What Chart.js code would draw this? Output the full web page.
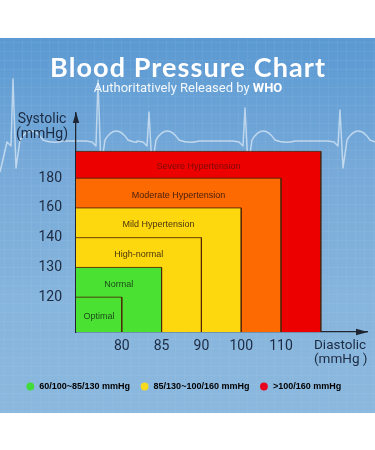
<!DOCTYPE html>
<html><head><meta charset="utf-8">
<script src="https://cdn.jsdelivr.net/npm/chart.js@4.4.1/dist/chart.umd.min.js"></script>
<style>
html,body{margin:0;padding:0;background:#fff;width:375px;height:450px;overflow:hidden}
#wrap{position:absolute;left:0;top:38px;width:375px;height:375px;background:linear-gradient(#5a99d2 0%,#77aad9 35%,#86b5dd 70%,#8bb8de 100%)}
canvas{display:block}
</style></head><body>
<div id="wrap"><canvas id="c" width="375" height="375"></canvas></div>
<script>
// ---- data ----
const zoneNames = ['Optimal','Normal','High-normal','Mild Hypertension','Moderate Hypertension','Severe Hypertension'];
const diastolicTickLabels = ['80','85','90','100','110'];
const systolicTickLabels = ['120','130','140','160','180'];
// zone extents expressed in axis steps (the chart axes are ordinal: step 1 = first tick label)
const zoneDiastolicStep = [1, 2, 3, 4, 5, 6];
const zoneSystolicStep  = [1, 2, 3, 4, 5, 5.9];
const legendLabels = ['60/100~85/130 mmHg','85/130~100/160 mmHg','>100/160 mmHg'];

// ---- styles ----
const zoneColors = ['#4be133','#4be133','#fed80e','#fed80e','#fd6a02','#ec0000'];
const zoneTextColors = ['#1d4a1a','#1d4a1a','#4a3510','#4a3510','#4a2108','#7d0a0a'];
const legendColors = ['#41dc3a','#f8da1e','#e8001c'];
const AX_X_MIN = -0.15, AX_X_MAX = 7.16, AX_Y_MIN = -0.17, AX_Y_MAX = 7.19;
const INK = '#1c2a42';

const datasets = zoneNames.map((name, i) => ({
  label: name,
  data: [
    {x: AX_X_MIN, y: zoneSystolicStep[i]},
    {x: zoneDiastolicStep[i], y: zoneSystolicStep[i]},
    {x: zoneDiastolicStep[i], y: AX_Y_MIN}
  ],
  backgroundColor: zoneColors[i],
  borderColor: 'rgba(80,35,10,0.85)',
  borderWidth: 1,
  fill: 'start',
  pointRadius: 0,
  tension: 0
}));

const decor = {
  id: 'decor',
  beforeDraw(chart) {
    const ctx = chart.ctx, W = chart.width, H = chart.height;
    ctx.save();
    ctx.strokeStyle = 'rgba(255,255,255,0.05)';
    ctx.lineWidth = 1;
    for (let x = 4.5; x < W; x += 9) { ctx.beginPath(); ctx.moveTo(x, 0); ctx.lineTo(x, H); ctx.stroke(); }
    for (let y = 4.5; y < H; y += 9) { ctx.beginPath(); ctx.moveTo(0, y); ctx.lineTo(W, y); ctx.stroke(); }
    // ECG trace (decorative background)
    const yb = 100;
    const spikes = [[13, 41], [98, 42], [149, 74], [245, 70], [340, 72]];
    ctx.strokeStyle = 'rgba(255,255,255,0.55)';
    ctx.lineWidth = 1.5;
    ctx.lineJoin = 'round';
    ctx.beginPath();
    ctx.moveTo(0, yb + 34);
    spikes.forEach(([sx, py], k) => {
      ctx.lineTo(sx - 6, yb + 4);
      ctx.lineTo(sx - 2, yb + 8);
      ctx.lineTo(sx, py);
      ctx.lineTo(sx + 3, yb + 30);
      ctx.lineTo(sx + 7, yb + 2);
      ctx.quadraticCurveTo(sx + 18, yb - 16, sx + 30, yb + 2);
      const nx = k + 1 < spikes.length ? spikes[k + 1][0] : W + 20;
      ctx.quadraticCurveTo(sx + 40, yb + 6, Math.min(sx + 50, nx - 12), yb + 3);
      ctx.lineTo(nx - 12, yb + 3);
    });
    ctx.stroke();
    ctx.restore();
  },
  afterDatasetsDraw(chart) {
    const ctx = chart.ctx, xs = chart.scales.x, ys = chart.scales.y, ca = chart.chartArea;
    ctx.save();
    // zone names
    ctx.textAlign = 'center';
    ctx.textBaseline = 'middle';
    ctx.font = '9px "Liberation Sans", Arial, sans-serif';
    zoneNames.forEach((name, i) => {
      const cx = (xs.getPixelForValue(AX_X_MIN) + xs.getPixelForValue(zoneDiastolicStep[i])) / 2;
      const lower = i === 0 ? AX_Y_MIN : zoneSystolicStep[i - 1];
      const cy = (ys.getPixelForValue(zoneSystolicStep[i]) + ys.getPixelForValue(lower)) / 2 + 2;
      ctx.fillStyle = zoneTextColors[i];
      ctx.fillText(name, cx, cy);
    });
    // arrowheads
    ctx.fillStyle = '#1e2633';
    ctx.beginPath();
    ctx.moveTo(ca.left, ca.top - 1); ctx.lineTo(ca.left - 3.2, ca.top + 10); ctx.lineTo(ca.left + 3.2, ca.top + 10); ctx.closePath(); ctx.fill();
    ctx.beginPath();
    ctx.moveTo(ca.right + 1, ca.bottom); ctx.lineTo(ca.right - 11, ca.bottom - 3.2); ctx.lineTo(ca.right - 11, ca.bottom + 3.2); ctx.closePath(); ctx.fill();
    // axis titles
    ctx.fillStyle = INK;
    ctx.font = '14px Roboto, "Liberation Sans", sans-serif';
    ctx.textAlign = 'center';
    ctx.fillText('Systolic', 42, 81);
    ctx.fillText('(mmHg)', 42, 96);
    ctx.textAlign = 'left';
    ctx.font = '13.5px Roboto, "Liberation Sans", sans-serif';
    ctx.fillText('Diastolic', 314, 308);
    ctx.fillText('(mmHg )', 314, 322);
    // header
    ctx.fillStyle = '#ffffff';
    ctx.textAlign = 'center';
    const title = 'Blood Pressure Chart';
    ctx.font = 'bold 27px Lato, "Open Sans", sans-serif';
    const tw = ctx.measureText(title).width;
    const extra = (275 - tw) / (title.length - 1);
    if ('letterSpacing' in ctx && extra > 0) {
      ctx.letterSpacing = extra + 'px';
      ctx.textAlign = 'left';
      ctx.fillText(title, 187.5 - 275 / 2, 30);
      ctx.letterSpacing = '0px';
    } else {
      ctx.fillText(title, 187.5, 30);
    }
    const a = 'Authoritatively Released by ', b = 'WHO';
    ctx.font = '13px Roboto, sans-serif';
    const wa = ctx.measureText(a).width;
    ctx.font = 'bold 13px Roboto, sans-serif';
    const wb = ctx.measureText(b).width;
    const x0 = 188 - (wa + wb) / 2;
    ctx.textAlign = 'left';
    ctx.fillStyle = 'rgba(255,255,255,0.92)';
    ctx.font = '13px Roboto, sans-serif';
    ctx.fillText(a, x0, 51);
    ctx.fillStyle = '#ffffff';
    ctx.font = 'bold 13px Roboto, sans-serif';
    ctx.fillText(b, x0 + wa, 51);
    ctx.restore();
  }
};

new Chart(document.getElementById('c'), {
  type: 'line',
  data: { datasets },
  options: {
    responsive: false,
    animation: false,
    layout: { padding: { top: 75, right: 8, bottom: 12, left: 0 } },
    scales: {
      x: {
        type: 'linear', min: AX_X_MIN, max: AX_X_MAX,
        grid: { display: false, drawTicks: false },
        border: { display: true, color: '#1e2633', width: 1.3 },
        afterBuildTicks: s => { s.ticks = diastolicTickLabels.map((_, i) => ({ value: i + 1 })); },
        afterFit: s => { s.height = 40; },
        ticks: {
          autoSkip: false, maxRotation: 0, padding: 6, color: INK,
          font: { family: 'Roboto, "Liberation Sans", sans-serif', size: 14 },
          callback: v => diastolicTickLabels[v - 1] ?? ''
        }
      },
      y: {
        type: 'linear', min: AX_Y_MIN, max: AX_Y_MAX,
        grid: { display: false, drawTicks: false },
        border: { display: true, color: '#1e2633', width: 1.3 },
        afterBuildTicks: s => { s.ticks = systolicTickLabels.map((_, i) => ({ value: i + 1 })); },
        afterFit: s => { s.width = 76; },
        ticks: {
          autoSkip: false, padding: 14, color: INK,
          font: { family: 'Roboto, "Liberation Sans", sans-serif', size: 14 },
          callback: v => systolicTickLabels[v - 1] ?? ''
        }
      }
    },
    plugins: {
      tooltip: { enabled: false },
      legend: {
        position: 'bottom',
        onClick: null,
        labels: {
          usePointStyle: true, boxWidth: 11, boxHeight: 5.5, padding: 10,
          color: '#1e2530',
          font: { family: '"Liberation Sans", Arial, sans-serif', size: 9, weight: 'bold' },
          generateLabels: () => legendLabels.map((t, i) => ({
            text: t, fillStyle: legendColors[i], strokeStyle: legendColors[i],
            lineWidth: 0, pointStyle: 'circle', hidden: false, datasetIndex: i
          }))
        }
      }
    }
  },
  plugins: [decor]
});
</script>
</body></html>
